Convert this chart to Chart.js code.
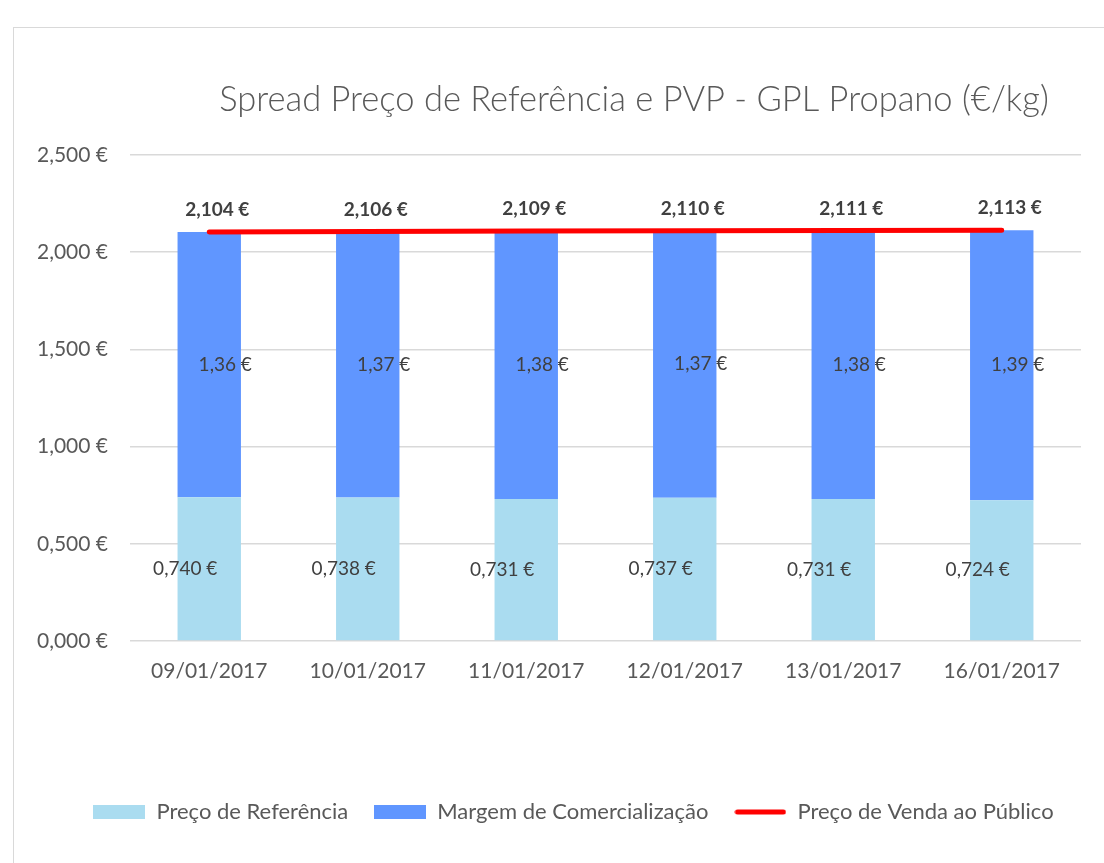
<!DOCTYPE html>
<html>
<head>
<meta charset="utf-8">
<script src="https://cdn.jsdelivr.net/npm/chart.js@4.4.1/dist/chart.umd.min.js"></script>
<style>
  html, body { margin: 0; padding: 0; background: #ffffff; overflow: hidden; }
  #frame { position: absolute; left: 13px; top: 27px; width: 1200px; height: 1000px; border: 1px solid #d9d9d9; box-sizing: border-box; }
  #wrap { position: absolute; left: 0; top: 0; width: 1104px; height: 863px; }
</style>
</head>
<body>
<div id="frame"></div>
<div id="wrap"><canvas id="c" width="1104" height="863"></canvas></div>
<script>
const titleText = 'Spread Preço de Referência e PVP - GPL Propano (€/kg)';
const categories = ['09/01/2017', '10/01/2017', '11/01/2017', '12/01/2017', '13/01/2017', '16/01/2017'];
const precoReferencia = [0.740, 0.738, 0.731, 0.737, 0.731, 0.724];
const margemComercializacao = [1.364, 1.368, 1.378, 1.373, 1.380, 1.389];
const precoVendaPublico = [2.104, 2.106, 2.109, 2.110, 2.111, 2.113];
const yTicks = [0, 0.5, 1.0, 1.5, 2.0, 2.5];
const seriesNames = ['Preço de Referência', 'Margem de Comercialização', 'Preço de Venda ao Público'];

const FONT = 'Lato, "Open Sans", sans-serif';
const GREY = '#595959';
const LABEL = '#404040';
const C_REF = '#AADCF0';
const C_MARG = '#6096FF';
const C_PVP = '#FF0000';

function fmt(v, d) { return v.toFixed(d).replace('.', ',') + ' €'; }

function legendSwatch(kind, color) {
  const cv = document.createElement('canvas');
  cv.width = 52; cv.height = 14;
  const g = cv.getContext('2d');
  if (kind === 'box') { g.fillStyle = color; g.fillRect(0, 0, 52, 14); }
  else { g.strokeStyle = color; g.lineWidth = 5; g.lineCap = 'round'; g.beginPath(); g.moveTo(3, 7); g.lineTo(49, 7); g.stroke(); }
  return cv;
}
const swatches = [legendSwatch('box', C_REF), legendSwatch('box', C_MARG), legendSwatch('line', C_PVP)];

const titlePlugin = {
  id: 'customTitle',
  afterLayout(chart) {
    if (chart.legend) { chart.legend.left += 33; chart.legend.right += 33; }
  },
  afterDraw(chart) {
    const ctx = chart.ctx;
    ctx.save();
    ctx.font = '300 34.5px ' + FONT;
    ctx.fillStyle = GREY;
    ctx.textAlign = 'center';
    ctx.textBaseline = 'middle';
    ctx.fillText(titleText, 634, 100);
    ctx.restore();
  }
};

const labelCfg = [
  { dx: -24, dy: 0, mode: 'mid', digits: 3, bold: false },
  { dx: 16, dy: 0, mode: 'mid', digits: 2, bold: false },
  { dx: 8, dy: -22, mode: 'top', digits: 3, bold: true }
];

const labelPlugin = {
  id: 'dataLabels',
  afterDatasetsDraw(chart) {
    const ctx = chart.ctx;
    ctx.save();
    ctx.textAlign = 'center';
    ctx.textBaseline = 'middle';
    ctx.fillStyle = LABEL;
    chart.data.datasets.forEach((ds, i) => {
      const meta = chart.getDatasetMeta(i);
      const cfg = labelCfg[i];
      ctx.font = (cfg.bold ? 'bold ' : '') + '19px ' + FONT;
      meta.data.forEach((el, j) => {
        const v = ds.data[j];
        let y = cfg.mode === 'mid' ? (el.y + el.base) / 2 : el.y;
        ctx.fillText(fmt(v, cfg.digits), el.x + cfg.dx, y + cfg.dy);
      });
    });
    ctx.restore();
  }
};

new Chart(document.getElementById('c'), {
  data: {
    labels: categories,
    datasets: [
      { type: 'bar', label: seriesNames[0], data: precoReferencia, backgroundColor: C_REF, stack: 'bars', barPercentage: 0.8, categoryPercentage: 0.5, order: 2 },
      { type: 'bar', label: seriesNames[1], data: margemComercializacao, backgroundColor: C_MARG, stack: 'bars', barPercentage: 0.8, categoryPercentage: 0.5, order: 2 },
      { type: 'line', label: seriesNames[2], data: precoVendaPublico, borderColor: C_PVP, backgroundColor: C_PVP, borderWidth: 5, borderCapStyle: 'round', pointRadius: 0, pointHoverRadius: 0, tension: 0, stack: 'line', order: 1 }
    ]
  },
  options: {
    responsive: false,
    animation: false,
    events: [],
    layout: { padding: { left: 0, right: 23, top: 155, bottom: 30 } },
    plugins: {
      title: { display: false },
      tooltip: { enabled: false },
      legend: {
        display: true,
        position: 'bottom',
        labels: {
          usePointStyle: true,
          pointStyleWidth: 52,
          boxHeight: 14,
          padding: 26,
          color: GREY,
          font: { family: FONT, size: 22 },
          generateLabels(chart) {
            return chart.data.datasets.map((ds, i) => ({
              text: ds.label,
              pointStyle: swatches[i],
              fillStyle: ds.backgroundColor,
              strokeStyle: ds.backgroundColor,
              lineWidth: 0,
              fontColor: GREY,
              hidden: false,
              datasetIndex: i
            }));
          }
        }
      }
    },
    scales: {
      x: {
        stacked: true,
        grid: { display: false, drawTicks: false },
        border: { display: false },
        ticks: { color: GREY, font: { family: FONT, size: 21 }, padding: 18, maxRotation: 0 },
        afterFit(scale) { scale.height = 134; }
      },
      y: {
        stacked: true,
        min: 0,
        max: 2.5,
        afterBuildTicks(scale) { scale.ticks = yTicks.map(v => ({ value: v })); },
        grid: { color: '#d9d9d9', lineWidth: 1.5, drawTicks: false },
        border: { display: false },
        ticks: { color: GREY, font: { family: FONT, size: 21 }, padding: 22, callback: v => fmt(v, 3) },
        afterFit(scale) { scale.width = 130; }
      }
    }
  },
  plugins: [titlePlugin, labelPlugin]
});
</script>
</body>
</html>
